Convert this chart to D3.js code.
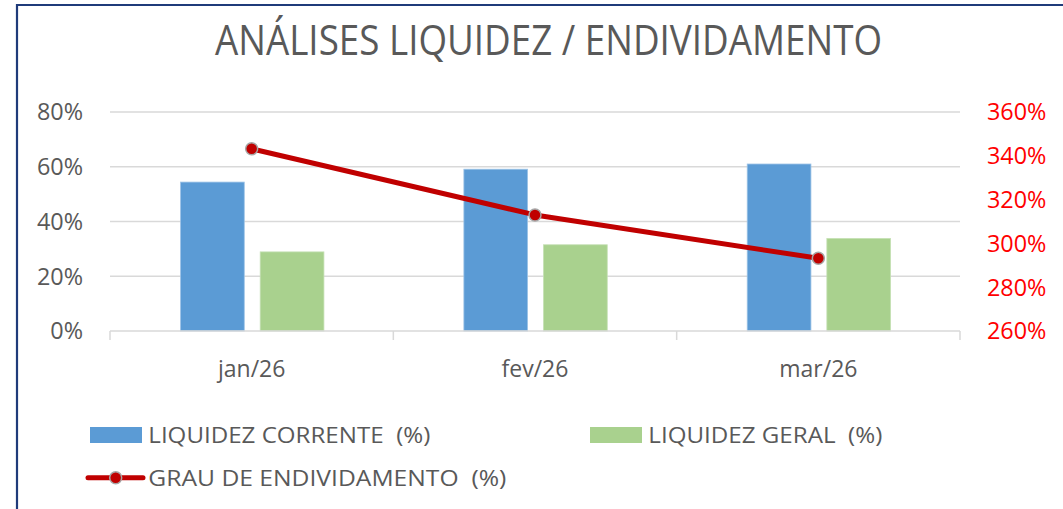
<!DOCTYPE html>
<html>
<head>
<meta charset="utf-8">
<script src="https://cdn.jsdelivr.net/npm/d3@7"></script>
<style>
  body { margin: 0; background: #fff; }
  svg { display: block; font-family: 'Open Sans', sans-serif; }
  text { white-space: pre; }
</style>
</head>
<body>
<svg id="chart" width="1063" height="509"></svg>
<script>
// Data
const categories = ['jan/26', 'fev/26', 'mar/26'];
const liquidezCorrente = [54.4, 59.1, 61.0];
const liquidezGeral = [28.9, 31.5, 33.8];
const grauEndividamento = [343.2, 313.0, 293.2];
const leftTicks = [0, 20, 40, 60, 80];
const rightTicks = [260, 280, 300, 320, 340, 360];

const width = 1063;
const height = 509;
const plot = { left: 110, right: 960, top: 112, bottom: 331 };

const svg = d3.select('#chart');

svg.append('rect').attr('width', width).attr('height', height).attr('fill', '#fff');

// Frame border (left + top visible)
svg
  .append('path')
  .attr('d', `M17,${height} L17,5 L${width},5`)
  .attr('fill', 'none')
  .attr('stroke', '#1f3b7a')
  .attr('stroke-width', 2.2);

// Scales
const x = d3.scaleBand().domain(categories).range([plot.left, plot.right]);
const bw = x.bandwidth();
const xInner = d3
  .scaleBand()
  .domain(['corrente', 'geral'])
  .range([bw * 0.249, bw * 0.755])
  .paddingInner(0.2);
const yLeft = d3.scaleLinear().domain([0, 80]).range([plot.bottom, plot.top]);
const yRight = d3.scaleLinear().domain([260, 360]).range([plot.bottom, plot.top]);

// Title
svg
  .append('text')
  .attr('x', 548.5)
  .attr('y', 55)
  .attr('text-anchor', 'middle')
  .attr('font-size', 42)
  .attr('fill', '#595959')
  .attr('textLength', 667)
  .attr('lengthAdjust', 'spacingAndGlyphs')
  .text('ANÁLISES LIQUIDEZ / ENDIVIDAMENTO');

// Gridlines
svg
  .append('g')
  .selectAll('line')
  .data(leftTicks.filter((t) => t > 0))
  .enter()
  .append('line')
  .attr('x1', plot.left)
  .attr('x2', plot.right)
  .attr('y1', (d) => yLeft(d))
  .attr('y2', (d) => yLeft(d))
  .attr('stroke', '#d9d9d9')
  .attr('stroke-width', 1.3);

// Left axis labels
svg
  .append('g')
  .selectAll('text')
  .data(leftTicks)
  .enter()
  .append('text')
  .attr('x', 83)
  .attr('y', (d) => yLeft(d) + 8.4)
  .attr('text-anchor', 'end')
  .attr('font-size', 23.4)
  .attr('fill', '#595959')
  .text((d) => `${d}%`);

// Right axis labels
svg
  .append('g')
  .selectAll('text')
  .data(rightTicks)
  .enter()
  .append('text')
  .attr('x', 987)
  .attr('y', (d) => yRight(d) + 8.4)
  .attr('text-anchor', 'start')
  .attr('font-size', 23.4)
  .attr('fill', '#ff0000')
  .text((d) => `${d}%`);

// Bars
const bars = svg.append('g');
const series = [
  { key: 'corrente', values: liquidezCorrente, color: '#5b9bd5', edge: '#9dc3e6' },
  { key: 'geral', values: liquidezGeral, color: '#a9d18e', edge: '#c5e0b4' },
];
series.forEach((s) => {
  bars
    .selectAll(`rect.${s.key}`)
    .data(s.values)
    .enter()
    .append('rect')
    .attr('class', s.key)
    .attr('x', (d, i) => x(categories[i]) + xInner(s.key))
    .attr('width', xInner.bandwidth())
    .attr('y', (d) => yLeft(d))
    .attr('height', (d) => yLeft(0) - yLeft(d))
    .attr('fill', s.color)
    .attr('stroke', s.edge)
    .attr('stroke-width', 0.8);
});

// Category axis
const axisG = svg.append('g');
axisG
  .append('line')
  .attr('x1', plot.left)
  .attr('x2', plot.right)
  .attr('y1', plot.bottom)
  .attr('y2', plot.bottom)
  .attr('stroke', '#d9d9d9')
  .attr('stroke-width', 1.5);
axisG
  .selectAll('line.tick')
  .data([...categories.map((c) => x(c)), plot.right])
  .enter()
  .append('line')
  .attr('class', 'tick')
  .attr('x1', (d) => d)
  .attr('x2', (d) => d)
  .attr('y1', plot.bottom)
  .attr('y2', plot.bottom + 9)
  .attr('stroke', '#d9d9d9')
  .attr('stroke-width', 1.5);
axisG
  .selectAll('text')
  .data(categories)
  .enter()
  .append('text')
  .attr('x', (d) => x(d) + bw / 2)
  .attr('y', 376.7)
  .attr('text-anchor', 'middle')
  .attr('font-size', 23)
  .attr('fill', '#595959')
  .text((d) => d);

// Line series (right axis)
const lineData = grauEndividamento.map((v, i) => ({ cat: categories[i], v }));
const line = d3
  .line()
  .x((d) => x(d.cat) + bw / 2)
  .y((d) => yRight(d.v));
svg
  .append('path')
  .datum(lineData)
  .attr('d', line)
  .attr('fill', 'none')
  .attr('stroke', '#c00000')
  .attr('stroke-width', 5)
  .attr('stroke-linejoin', 'round');
svg
  .append('g')
  .selectAll('circle')
  .data(lineData)
  .enter()
  .append('circle')
  .attr('cx', (d) => x(d.cat) + bw / 2)
  .attr('cy', (d) => yRight(d.v))
  .attr('r', 6)
  .attr('fill', '#c00000')
  .attr('stroke', '#a6a6a6')
  .attr('stroke-width', 1.5);

// Legend
const legend = svg.append('g');
legend.append('rect').attr('x', 90).attr('y', 427).attr('width', 52).attr('height', 16).attr('fill', '#5b9bd5');
legend.append('rect').attr('x', 590).attr('y', 427).attr('width', 52).attr('height', 16).attr('fill', '#a9d18e');
legend
  .append('line')
  .attr('x1', 88)
  .attr('x2', 143)
  .attr('y1', 477.7)
  .attr('y2', 477.7)
  .attr('stroke', '#c00000')
  .attr('stroke-width', 5)
  .attr('stroke-linecap', 'round');
legend
  .append('circle')
  .attr('cx', 115.7)
  .attr('cy', 477.7)
  .attr('r', 6)
  .attr('fill', '#c00000')
  .attr('stroke', '#a6a6a6')
  .attr('stroke-width', 1.5);

const legendItems = [
  { label: 'LIQUIDEZ CORRENTE  (%)', x: 148.3, y: 442.7, len: 282 },
  { label: 'LIQUIDEZ GERAL  (%)', x: 648.3, y: 442.7, len: 234 },
  { label: 'GRAU DE ENDIVIDAMENTO  (%)', x: 148.3, y: 486, len: 358 },
];
legend
  .selectAll('text')
  .data(legendItems)
  .enter()
  .append('text')
  .attr('x', (d) => d.x)
  .attr('y', (d) => d.y)
  .attr('font-size', 22.4)
  .attr('fill', '#595959')
  .attr('textLength', (d) => d.len)
  .attr('lengthAdjust', 'spacingAndGlyphs')
  .text((d) => d.label);
</script>
</body>
</html>
